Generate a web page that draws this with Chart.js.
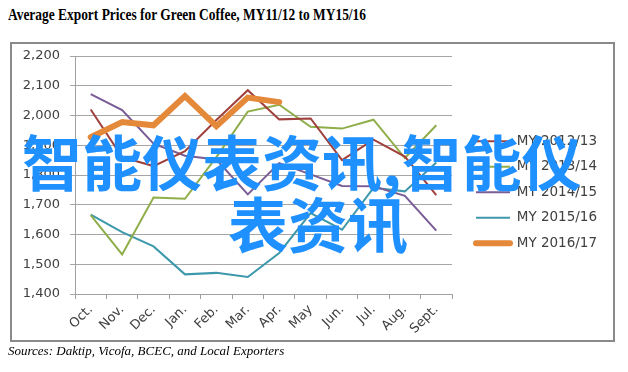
<!DOCTYPE html>
<html><head><meta charset="utf-8">
<script src="https://cdn.jsdelivr.net/npm/chart.js@4/dist/chart.umd.min.js"></script>
<style>
html,body{margin:0;padding:0;background:#fff;}
#wrap{position:relative;width:628px;height:372px;overflow:hidden;background:#fff;}
#title{position:absolute;left:8px;top:5px;font:bold 17px "Liberation Serif","Times New Roman",serif;color:#000;white-space:nowrap;transform-origin:0 0;}
#frame{position:absolute;left:10px;top:42px;width:605px;height:300px;border:2px solid #8a8a8a;box-sizing:border-box;}
#src{position:absolute;left:8px;top:343px;font:italic 13px "Liberation Serif","Times New Roman",serif;color:#000;white-space:nowrap;}
#c{position:absolute;left:0;top:0;}
.wm{position:absolute;font:bold 60px "Noto Sans CJK SC";color:#1E90FF;white-space:nowrap;line-height:60px;}
</style></head>
<body>
<div id="wrap">
  <div id="title">Average Export Prices for Green Coffee, MY11/12 to MY15/16</div>
  <div id="frame"></div>
  <canvas id="c" width="628" height="372"></canvas>
  <div id="src">Sources: Daktip, Vicofa, BCEC, and Local Exporters</div>
  <div class="wm" id="wm1" style="left:22px;top:130px;">智能仪表资讯,智能仪</div>
  <div class="wm" id="wm2" style="left:228px;top:192px;">表资讯</div>
</div>
<script>
const months = ['Oct.','Nov.','Dec.','Jan.','Feb.','Mar.','Apr.','May','Jun.','Jul.','Aug.','Sept.'];
const seriesNames = ['MY 2012/13','MY 2013/14','MY 2014/15','MY 2015/16','MY 2016/17'];
const my1213 = [2020, 1860, 1830, 1880, 1985, 2085, 1987, 1990, 1850, 1919, 1862, 1732];
const my1314 = [1665, 1533, 1724, 1720, 1860, 2013, 2036, 1962, 1956, 1986, 1857, 1967];
const my1415 = [2072, 2018, 1905, 1865, 1852, 1735, 1840, 1802, 1763, 1762, 1730, 1613];
const my1516 = [1667, 1608, 1560, 1466, 1471, 1457, 1538, 1672, 1616, 1757, 1745, 1842];
const my1617 = [1927, 1978, 1967, 2065, 1964, 2060, 2045, null, null, null, null, null];
const yTickValues = [1400, 1500, 1600, 1700, 1800, 1900, 2000, 2100, 2200];
const yTickLabels = ['1,400','1,500','1,600','1,700','1,800','1,900','2,000','2,100','2,200'];

const colors = ['#A0403C','#8FAE4A','#7A5C96','#3E98AC','#E4883A'];
const widths = [2, 2, 2, 2, 6];
const seriesData = [my1213, my1314, my1415, my1516, my1617];

// fit title width
const t = document.getElementById('title');
t.style.transform = 'scaleX(' + (358 / t.getBoundingClientRect().width) + ')';

const datasets = seriesData.map((d, i) => ({
  label: seriesNames[i],
  data: d,
  borderColor: colors[i],
  backgroundColor: colors[i],
  borderWidth: widths[i],
  borderCapStyle: i === 4 ? 'round' : 'butt',
  pointRadius: 0,
  pointHoverRadius: 0,
  pointStyle: 'line',
  pointBorderWidth: widths[i],
  tension: 0,
  fill: false,
  spanGaps: false,
  order: i === 4 ? 0 : 1 + i
}));

const legendShift = {
  id: 'legendShift',
  afterLayout(chart) {
    const lg = chart.legend;
    if (!lg) return;
    const dx = 464 - lg.left, dy = 122.5 - lg.top;
    lg.left += dx; lg.right += dx; lg.top += dy; lg.bottom += dy;
  }
};

const tickFont = {family: 'DejaVu Sans', size: 13};
new Chart(document.getElementById('c'), {
  type: 'line',
  data: {labels: months, datasets},
  options: {
    responsive: false,
    animation: false,
    devicePixelRatio: 1,
    layout: {padding: {left: 10, top: 56, right: 176, bottom: 30}},
    plugins: {
      tooltip: {enabled: false},
      title: {display: false},
      legend: {
        position: 'chartArea',
        align: 'start',
        labels: {
          usePointStyle: true,
          pointStyleWidth: 34,
          padding: 12,
          color: '#404040',
          font: {family: 'DejaVu Sans', size: 13.5},
          sort: (a, b) => a.datasetIndex - b.datasetIndex,
          generateLabels(chart) {
            const items = Chart.defaults.plugins.legend.labels.generateLabels(chart);
            items.forEach(it => {
              const ds = chart.data.datasets[it.datasetIndex];
              it.lineWidth = ds.borderWidth;
              it.lineCap = ds.borderCapStyle;
              it.strokeStyle = ds.borderColor;
              it.pointStyle = 'line';
            });
            return items;
          }
        }
      }
    },
    scales: {
      x: {
        offset: true,
        grid: {display: true, offset: true, drawOnChartArea: false, drawTicks: true, tickLength: 5, color: '#a0a0a0'},
        border: {display: true, color: '#a0a0a0'},
        ticks: {minRotation: 45, maxRotation: 45, padding: 3, color: '#404040', font: tickFont, autoSkip: false},
        afterFit: s => { s.height = 48; }
      },
      y: {
        min: 1400, max: 2200,
        grid: {color: '#a6a6a6', tickLength: 5},
        border: {display: true, color: '#a0a0a0'},
        ticks: {stepSize: 100, padding: 10, color: '#404040', font: tickFont,
          callback: v => yTickLabels[yTickValues.indexOf(v)]},
        afterFit: s => { s.width = 65; }
      }
    }
  },
  plugins: [legendShift]
});
</script>
</body></html>
